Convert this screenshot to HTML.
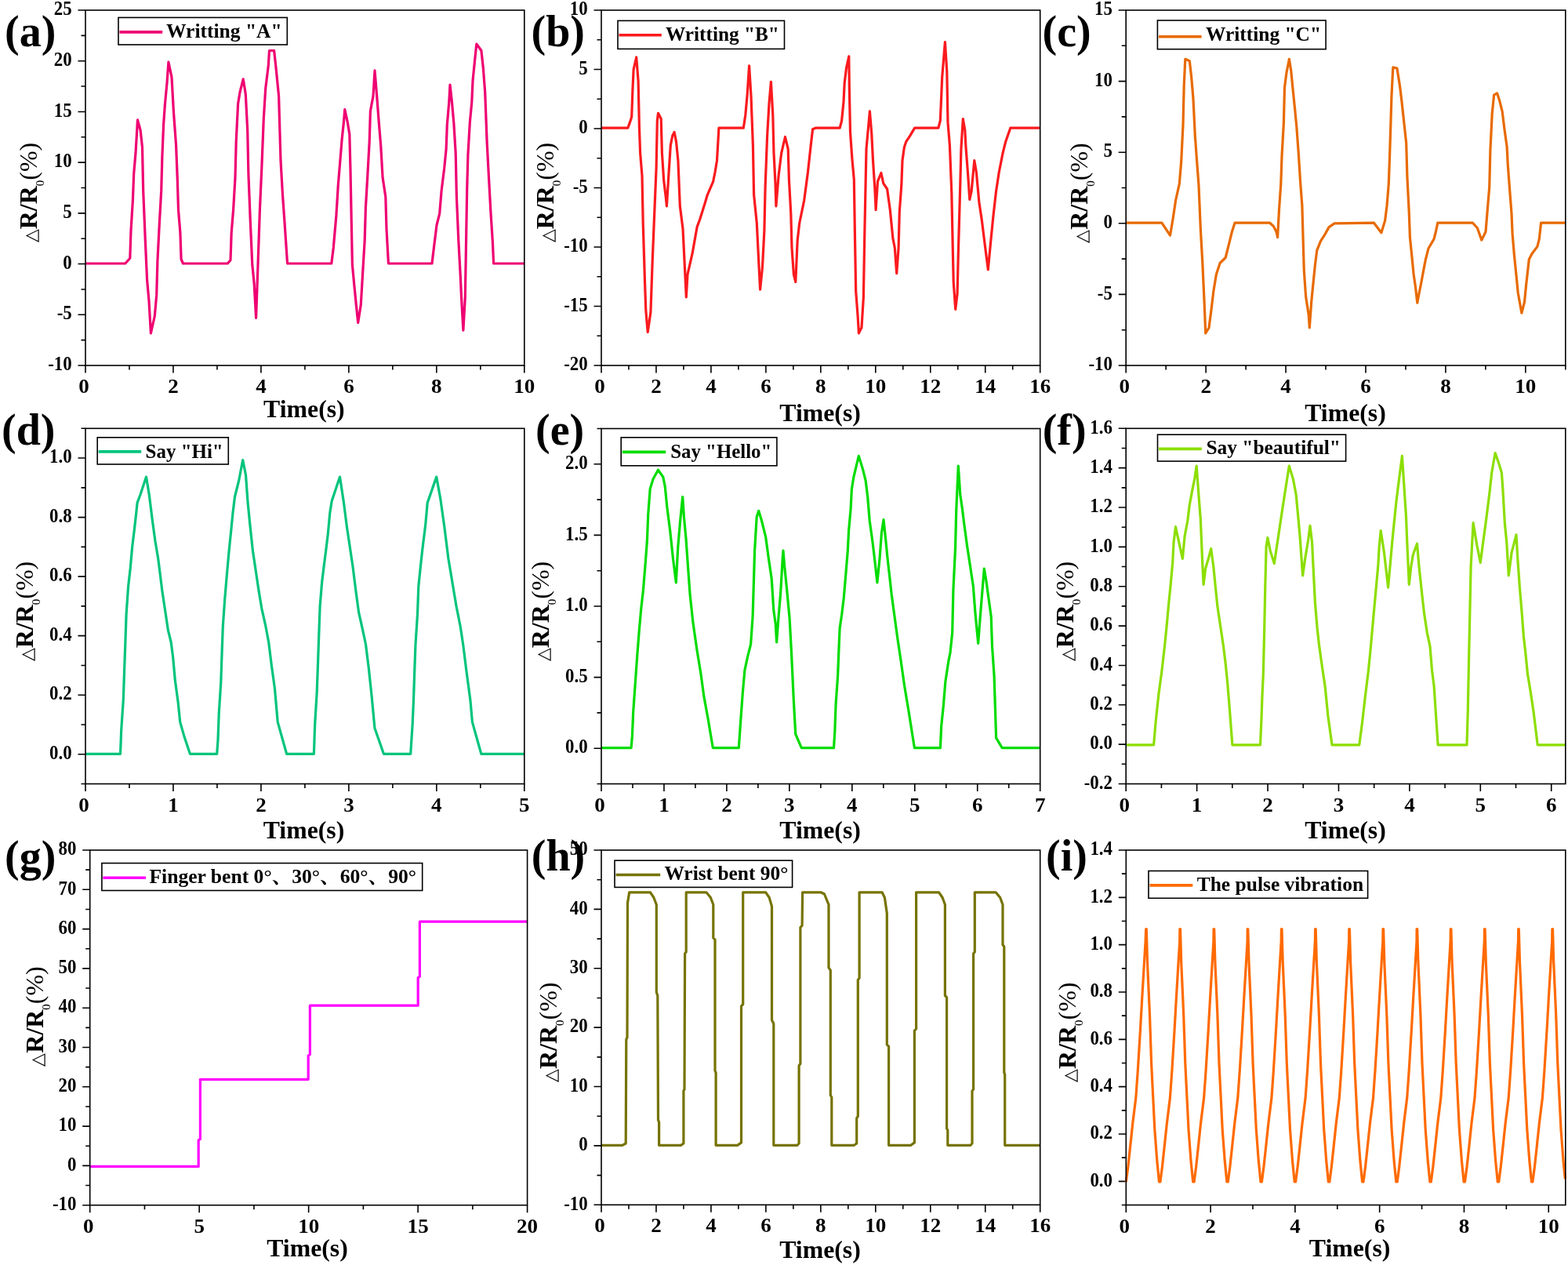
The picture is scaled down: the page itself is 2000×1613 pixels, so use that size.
<!DOCTYPE html>
<html><head><meta charset="utf-8"><style>
html,body{margin:0;padding:0;background:#fff;}
svg{display:block;}
text{font-family:"Liberation Serif", "Times New Roman", serif;fill:#000;}
.tl{font-size:26px;font-weight:bold;}
.xt{font-size:32px;font-weight:bold;}
.yt{font-size:32px;font-weight:bold;}
.rg{font-weight:normal;}
.sub{font-size:15px;font-weight:normal;}
.tri{font-size:22px;font-weight:normal;}
.lg{font-size:25px;font-weight:bold;}
.lgc{font-size:25px;font-weight:bold;font-family:"Liberation Serif", "Noto Serif CJK SC", "Noto Sans CJK SC", serif;}
.pl{font-size:56px;font-weight:bold;}
</style></head><body>
<svg width="2000" height="1613" viewBox="0 0 2000 1613">
<rect width="2000" height="1613" fill="#fff"/>
<g id="pa">
<path d="M109.00 466.00v9.5 M164.98 466.00v5.5 M220.96 466.00v9.5 M276.94 466.00v5.5 M332.92 466.00v9.5 M388.90 466.00v5.5 M444.88 466.00v9.5 M500.86 466.00v5.5 M556.84 466.00v9.5 M612.82 466.00v5.5 M668.80 466.00v9.5 M109.00 466.00h-9.5 M109.00 433.64h-5.5 M109.00 401.29h-9.5 M109.00 368.93h-5.5 M109.00 336.57h-9.5 M109.00 304.21h-5.5 M109.00 271.86h-9.5 M109.00 239.50h-5.5 M109.00 207.14h-9.5 M109.00 174.79h-5.5 M109.00 142.43h-9.5 M109.00 110.07h-5.5 M109.00 77.71h-9.5 M109.00 45.36h-5.5 M109.00 13.00h-9.5" stroke="#000" stroke-width="1.6" fill="none"/>
<text transform="translate(107.00,501.00) scale(1.04,1)" text-anchor="middle" class="tl">0</text>
<text transform="translate(220.96,501.00) scale(1.04,1)" text-anchor="middle" class="tl">2</text>
<text transform="translate(332.92,501.00) scale(1.04,1)" text-anchor="middle" class="tl">4</text>
<text transform="translate(444.88,501.00) scale(1.04,1)" text-anchor="middle" class="tl">6</text>
<text transform="translate(556.84,501.00) scale(1.04,1)" text-anchor="middle" class="tl">8</text>
<text transform="translate(668.80,501.00) scale(1.04,1)" text-anchor="middle" class="tl">10</text>
<text transform="translate(91.70,472.20) scale(0.88,1)" text-anchor="end" class="tl">-10</text>
<text transform="translate(91.70,407.49) scale(0.88,1)" text-anchor="end" class="tl">-5</text>
<text transform="translate(91.70,342.77) scale(0.88,1)" text-anchor="end" class="tl">0</text>
<text transform="translate(91.70,278.06) scale(0.88,1)" text-anchor="end" class="tl">5</text>
<text transform="translate(91.70,213.34) scale(0.88,1)" text-anchor="end" class="tl">10</text>
<text transform="translate(91.70,148.63) scale(0.88,1)" text-anchor="end" class="tl">15</text>
<text transform="translate(91.70,83.91) scale(0.88,1)" text-anchor="end" class="tl">20</text>
<text transform="translate(91.70,19.20) scale(0.88,1)" text-anchor="end" class="tl">25</text>
<polyline points="109.0,336.0 159.8,336.0 165.8,329.3 167.0,294.2 169.4,255.5 170.7,221.7 173.0,195.0 174.3,173.3 175.5,152.8 179.1,166.0 181.5,187.8 182.7,243.4 185.2,303.9 187.6,357.0 190.0,383.6 192.4,424.8 197.3,403.0 199.7,376.4 200.9,332.9 203.3,285.7 205.7,243.4 206.9,199.9 208.6,158.8 210.5,132.2 213.0,105.6 214.9,79.0 219.0,98.4 221.4,141.9 224.6,185.4 226.3,228.9 227.5,267.6 229.9,296.6 231.1,330.5 233.5,336.0 290.3,336.0 294.0,331.7 295.2,296.6 297.6,267.6 300.0,226.5 301.2,180.6 303.6,132.2 306.0,117.7 310.2,100.8 313.3,120.1 315.7,166.0 316.9,221.7 319.3,282.1 321.8,337.7 324.2,361.9 326.6,405.4 329.0,337.7 331.4,267.6 333.9,212.0 336.3,151.5 338.7,112.9 342.3,83.8 343.5,64.5 349.6,64.5 352.0,86.3 355.6,122.5 358.0,204.7 360.5,248.3 362.9,282.1 366.5,335.3 366.8,336.0 422.8,336.0 425.3,316.0 428.9,274.9 431.3,236.2 433.7,207.2 436.1,178.1 438.6,154.0 439.8,139.5 443.4,156.4 445.8,170.9 447.0,216.8 448.2,279.7 449.4,337.7 451.9,364.3 454.3,388.5 456.7,411.5 460.3,388.5 462.7,347.4 465.2,306.3 466.4,265.2 468.8,224.1 471.2,180.6 472.4,141.9 476.0,122.5 478.0,89.9 480.9,125.0 483.3,156.4 485.7,185.4 488.1,226.5 491.8,250.7 493.0,291.8 495.4,335.3 495.6,336.0 551.0,336.0 553.4,316.0 557.0,287.0 560.7,272.4 563.1,243.4 566.7,214.4 569.1,190.2 570.3,158.8 572.8,129.8 574.0,108.0 576.4,129.8 578.8,156.4 581.2,195.1 582.4,250.7 584.8,306.3 587.3,352.2 588.5,378.8 590.9,421.1 593.3,378.8 594.5,311.1 595.7,241.0 596.9,197.5 599.3,156.4 601.8,129.8 603.0,103.2 605.4,79.0 607.8,56.0 613.9,64.5 616.3,86.3 618.7,117.7 621.1,180.6 623.5,226.5 625.9,270.0 628.4,308.7 629.6,336.0 669.0,336.0" fill="none" stroke="#ee0072" stroke-width="3.2" stroke-linejoin="round"/>
<rect x="109.00" y="13.00" width="559.80" height="453.00" fill="none" stroke="#000" stroke-width="1.6"/>
<text x="336.10" y="532.00" class="xt" textLength="103.6" lengthAdjust="spacingAndGlyphs">Time(s)</text>
<rect x="151.00" y="22.40" width="215.30" height="34.60" fill="#fff" stroke="#000" stroke-width="1.6"/>
<line x1="152.50" y1="40.90" x2="207.20" y2="40.90" stroke="#ee0072" stroke-width="3.6"/>
<text x="212.00" y="48.00" class="lg" textLength="147.70" lengthAdjust="spacingAndGlyphs">Writting &quot;A&quot;</text>
</g>
<g id="pb">
<path d="M767.00 466.00v9.5 M801.98 466.00v5.5 M836.96 466.00v9.5 M871.94 466.00v5.5 M906.92 466.00v9.5 M941.91 466.00v5.5 M976.89 466.00v9.5 M1011.87 466.00v5.5 M1046.85 466.00v9.5 M1081.83 466.00v5.5 M1116.81 466.00v9.5 M1151.79 466.00v5.5 M1186.78 466.00v9.5 M1221.76 466.00v5.5 M1256.74 466.00v9.5 M1291.72 466.00v5.5 M1326.70 466.00v9.5 M767.00 466.00h-9.5 M767.00 428.25h-5.5 M767.00 390.50h-9.5 M767.00 352.75h-5.5 M767.00 315.00h-9.5 M767.00 277.25h-5.5 M767.00 239.50h-9.5 M767.00 201.75h-5.5 M767.00 164.00h-9.5 M767.00 126.25h-5.5 M767.00 88.50h-9.5 M767.00 50.75h-5.5 M767.00 13.00h-9.5" stroke="#000" stroke-width="1.6" fill="none"/>
<text transform="translate(765.00,501.00) scale(1.04,1)" text-anchor="middle" class="tl">0</text>
<text transform="translate(836.96,501.00) scale(1.04,1)" text-anchor="middle" class="tl">2</text>
<text transform="translate(906.92,501.00) scale(1.04,1)" text-anchor="middle" class="tl">4</text>
<text transform="translate(976.89,501.00) scale(1.04,1)" text-anchor="middle" class="tl">6</text>
<text transform="translate(1046.85,501.00) scale(1.04,1)" text-anchor="middle" class="tl">8</text>
<text transform="translate(1116.81,501.00) scale(1.04,1)" text-anchor="middle" class="tl">10</text>
<text transform="translate(1186.78,501.00) scale(1.04,1)" text-anchor="middle" class="tl">12</text>
<text transform="translate(1256.74,501.00) scale(1.04,1)" text-anchor="middle" class="tl">14</text>
<text transform="translate(1326.70,501.00) scale(1.04,1)" text-anchor="middle" class="tl">16</text>
<text transform="translate(749.70,472.20) scale(0.88,1)" text-anchor="end" class="tl">-20</text>
<text transform="translate(749.70,396.70) scale(0.88,1)" text-anchor="end" class="tl">-15</text>
<text transform="translate(749.70,321.20) scale(0.88,1)" text-anchor="end" class="tl">-10</text>
<text transform="translate(749.70,245.70) scale(0.88,1)" text-anchor="end" class="tl">-5</text>
<text transform="translate(749.70,170.20) scale(0.88,1)" text-anchor="end" class="tl">0</text>
<text transform="translate(749.70,94.70) scale(0.88,1)" text-anchor="end" class="tl">5</text>
<text transform="translate(749.70,19.20) scale(0.88,1)" text-anchor="end" class="tl">10</text>
<polyline points="767.0,163.2 800.8,163.2 803.3,156.4 805.7,149.1 806.9,115.3 808.1,88.7 811.7,73.0 814.1,103.2 815.4,161.2 816.6,195.1 819.0,224.1 820.2,284.5 822.6,361.9 823.8,395.7 826.2,423.5 829.9,398.2 832.3,330.5 834.7,272.4 837.1,214.4 838.3,154.0 839.5,144.3 843.2,151.5 844.4,195.1 846.8,231.3 849.2,250.7 850.4,262.8 852.8,224.1 855.3,185.4 857.7,173.3 860.1,168.5 862.5,180.6 864.9,204.7 867.3,262.8 871.0,291.8 873.4,340.1 875.3,378.8 877.0,349.8 883.1,323.2 889.1,289.4 892.7,279.7 898.8,260.3 902.4,248.3 909.7,231.3 912.1,219.2 914.5,204.7 916.9,163.2 948.3,163.2 950.8,146.7 953.2,120.1 955.6,83.8 958.0,122.5 960.4,185.4 961.6,248.3 965.3,284.5 967.7,332.9 969.6,369.1 972.5,340.1 974.9,294.2 976.1,238.6 978.6,173.3 981.0,132.2 983.4,104.4 985.8,146.7 987.0,195.1 989.0,233.8 989.9,262.8 993.1,224.1 996.7,195.1 1001.5,174.5 1005.2,190.2 1006.4,228.9 1008.8,272.4 1010.0,316.0 1012.4,349.8 1014.8,359.5 1017.2,306.3 1019.7,284.5 1025.7,255.5 1030.5,219.2 1034.2,185.4 1036.6,164.8 1040.2,163.2 1071.2,163.2 1073.6,154.0 1076.0,129.8 1077.2,105.6 1079.6,86.3 1082.8,71.8 1083.3,110.4 1084.5,168.5 1086.9,202.3 1089.3,228.9 1090.5,303.9 1091.7,371.6 1094.1,403.0 1095.4,424.8 1099.0,417.5 1101.4,378.8 1102.6,308.7 1103.8,248.3 1105.0,190.2 1107.4,163.6 1109.4,141.9 1111.8,170.9 1113.5,204.7 1115.9,241.0 1117.1,267.6 1119.5,231.3 1123.9,220.5 1126.8,233.8 1131.6,241.0 1135.3,267.6 1138.9,303.9 1141.3,316.0 1143.7,348.6 1146.1,316.0 1147.3,270.0 1149.8,236.2 1151.0,204.7 1153.4,187.8 1155.8,180.6 1160.6,173.3 1166.7,163.2 1196.9,163.2 1199.3,154.0 1200.5,127.4 1201.7,98.4 1205.4,53.6 1207.8,91.1 1209.0,156.4 1211.4,185.4 1213.8,245.8 1215.0,303.9 1216.2,359.5 1218.7,394.5 1221.1,374.0 1222.3,323.2 1224.7,238.6 1225.9,190.2 1228.3,151.5 1230.8,166.0 1232.0,187.8 1234.4,219.2 1236.8,254.3 1239.2,243.4 1242.8,204.7 1245.3,219.2 1248.9,257.9 1252.5,282.1 1256.1,311.1 1260.3,343.8 1263.4,311.1 1267.0,274.9 1270.6,243.4 1274.3,219.2 1279.1,195.1 1282.7,180.6 1288.8,163.2 1327.0,163.2" fill="none" stroke="#fa1a1e" stroke-width="3.2" stroke-linejoin="round"/>
<rect x="767.00" y="13.00" width="559.70" height="453.00" fill="none" stroke="#000" stroke-width="1.6"/>
<text x="994.30" y="537.40" class="xt" textLength="103.6" lengthAdjust="spacingAndGlyphs">Time(s)</text>
<rect x="788.00" y="26.40" width="212.50" height="36.00" fill="#fff" stroke="#000" stroke-width="1.6"/>
<line x1="789.50" y1="44.80" x2="843.80" y2="44.80" stroke="#fa1a1e" stroke-width="3.6"/>
<text x="849.00" y="51.60" class="lg" textLength="144.90" lengthAdjust="spacingAndGlyphs">Writting &quot;B&quot;</text>
</g>
<g id="pc">
<path d="M1436.20 466.00v9.5 M1487.16 466.00v5.5 M1538.13 466.00v9.5 M1589.09 466.00v5.5 M1640.05 466.00v9.5 M1691.02 466.00v5.5 M1741.98 466.00v9.5 M1792.95 466.00v5.5 M1843.91 466.00v9.5 M1894.87 466.00v5.5 M1945.84 466.00v9.5 M1996.80 466.00v5.5 M1436.20 466.00h-9.5 M1436.20 420.70h-5.5 M1436.20 375.40h-9.5 M1436.20 330.10h-5.5 M1436.20 284.80h-9.5 M1436.20 239.50h-5.5 M1436.20 194.20h-9.5 M1436.20 148.90h-5.5 M1436.20 103.60h-9.5 M1436.20 58.30h-5.5 M1436.20 13.00h-9.5" stroke="#000" stroke-width="1.6" fill="none"/>
<text transform="translate(1434.20,501.00) scale(1.04,1)" text-anchor="middle" class="tl">0</text>
<text transform="translate(1538.13,501.00) scale(1.04,1)" text-anchor="middle" class="tl">2</text>
<text transform="translate(1640.05,501.00) scale(1.04,1)" text-anchor="middle" class="tl">4</text>
<text transform="translate(1741.98,501.00) scale(1.04,1)" text-anchor="middle" class="tl">6</text>
<text transform="translate(1843.91,501.00) scale(1.04,1)" text-anchor="middle" class="tl">8</text>
<text transform="translate(1945.84,501.00) scale(1.04,1)" text-anchor="middle" class="tl">10</text>
<text transform="translate(1418.90,472.20) scale(0.88,1)" text-anchor="end" class="tl">-10</text>
<text transform="translate(1418.90,381.60) scale(0.88,1)" text-anchor="end" class="tl">-5</text>
<text transform="translate(1418.90,291.00) scale(0.88,1)" text-anchor="end" class="tl">0</text>
<text transform="translate(1418.90,200.40) scale(0.88,1)" text-anchor="end" class="tl">5</text>
<text transform="translate(1418.90,109.80) scale(0.88,1)" text-anchor="end" class="tl">10</text>
<text transform="translate(1418.90,19.20) scale(0.88,1)" text-anchor="end" class="tl">15</text>
<polyline points="1436.0,284.2 1481.9,284.2 1492.5,300.2 1496.1,279.0 1499.6,255.5 1504.3,234.3 1506.7,206.0 1509.0,158.9 1510.2,109.5 1511.8,75.3 1517.3,77.7 1519.6,97.7 1522.0,126.0 1524.3,173.0 1526.7,206.0 1529.0,236.6 1531.4,293.2 1533.7,333.2 1536.1,385.0 1537.7,425.0 1542.0,418.0 1544.8,396.8 1547.9,370.9 1551.4,349.7 1556.1,335.5 1563.2,328.5 1567.9,309.6 1571.4,295.5 1575.0,284.2 1619.7,284.2 1624.4,288.5 1628.0,295.5 1629.6,302.6 1631.5,267.3 1633.8,234.3 1635.0,199.0 1637.4,156.6 1638.5,111.8 1640.9,93.0 1644.4,75.3 1646.8,90.6 1649.1,114.2 1651.5,137.7 1653.8,161.3 1656.2,194.2 1658.6,231.9 1660.9,262.5 1662.1,304.9 1663.3,345.0 1665.6,378.0 1669.2,401.5 1670.3,418.0 1672.7,385.0 1675.0,361.5 1677.4,337.9 1679.8,319.1 1684.5,307.3 1689.2,300.2 1695.1,289.6 1702.1,284.9 1752.5,284.2 1761.9,296.7 1766.6,281.4 1769.0,262.5 1771.3,234.3 1772.5,201.3 1773.7,163.6 1774.9,123.6 1776.8,85.9 1781.9,87.1 1785.5,109.5 1787.8,128.3 1791.4,161.3 1793.7,182.5 1794.9,224.9 1797.3,272.0 1798.4,302.6 1800.8,326.1 1803.1,349.7 1805.5,366.2 1807.8,386.2 1810.2,373.2 1812.6,361.5 1816.1,342.6 1818.4,330.8 1822.0,316.7 1829.0,304.9 1831.4,295.5 1833.8,284.2 1878.5,284.2 1884.4,290.8 1889.8,306.1 1895.0,295.5 1897.3,267.3 1899.7,239.0 1900.9,191.9 1903.2,144.8 1905.6,121.2 1909.6,118.9 1912.7,128.3 1916.2,142.4 1918.5,161.3 1922.1,187.2 1923.3,210.7 1925.6,241.3 1928.0,272.0 1929.1,297.9 1931.5,326.1 1933.9,349.7 1936.2,373.2 1940.9,399.1 1944.5,385.0 1946.8,361.5 1950.3,330.8 1953.9,323.8 1960.9,314.4 1963.3,304.9 1965.6,284.2 1996.0,284.2" fill="none" stroke="#e86a00" stroke-width="3.2" stroke-linejoin="round"/>
<rect x="1436.20" y="13.00" width="560.60" height="453.00" fill="none" stroke="#000" stroke-width="1.6"/>
<text x="1664.20" y="537.20" class="xt" textLength="103.6" lengthAdjust="spacingAndGlyphs">Time(s)</text>
<rect x="1476.40" y="26.00" width="214.70" height="36.70" fill="#fff" stroke="#000" stroke-width="1.6"/>
<line x1="1477.90" y1="46.70" x2="1532.60" y2="46.70" stroke="#e86a00" stroke-width="3.6"/>
<text x="1538.00" y="52.20" class="lg" textLength="147.00" lengthAdjust="spacingAndGlyphs">Writting &quot;C&quot;</text>
</g>
<g id="pd">
<path d="M109.00 999.50v9.5 M164.98 999.50v5.5 M220.96 999.50v9.5 M276.94 999.50v5.5 M332.92 999.50v9.5 M388.90 999.50v5.5 M444.88 999.50v9.5 M500.86 999.50v5.5 M556.84 999.50v9.5 M612.82 999.50v5.5 M668.80 999.50v9.5 M109.00 999.50h-5.5 M109.00 961.73h-9.5 M109.00 923.97h-5.5 M109.00 886.20h-9.5 M109.00 848.43h-5.5 M109.00 810.67h-9.5 M109.00 772.90h-5.5 M109.00 735.13h-9.5 M109.00 697.37h-5.5 M109.00 659.60h-9.5 M109.00 621.83h-5.5 M109.00 584.07h-9.5 M109.00 546.30h-5.5" stroke="#000" stroke-width="1.6" fill="none"/>
<text transform="translate(107.00,1034.50) scale(1.04,1)" text-anchor="middle" class="tl">0</text>
<text transform="translate(220.96,1034.50) scale(1.04,1)" text-anchor="middle" class="tl">1</text>
<text transform="translate(332.92,1034.50) scale(1.04,1)" text-anchor="middle" class="tl">2</text>
<text transform="translate(444.88,1034.50) scale(1.04,1)" text-anchor="middle" class="tl">3</text>
<text transform="translate(556.84,1034.50) scale(1.04,1)" text-anchor="middle" class="tl">4</text>
<text transform="translate(668.80,1034.50) scale(1.04,1)" text-anchor="middle" class="tl">5</text>
<text transform="translate(91.70,967.93) scale(0.88,1)" text-anchor="end" class="tl">0.0</text>
<text transform="translate(91.70,892.40) scale(0.88,1)" text-anchor="end" class="tl">0.2</text>
<text transform="translate(91.70,816.87) scale(0.88,1)" text-anchor="end" class="tl">0.4</text>
<text transform="translate(91.70,741.33) scale(0.88,1)" text-anchor="end" class="tl">0.6</text>
<text transform="translate(91.70,665.80) scale(0.88,1)" text-anchor="end" class="tl">0.8</text>
<text transform="translate(91.70,590.27) scale(0.88,1)" text-anchor="end" class="tl">1.0</text>
<polyline points="109.0,961.3 153.5,961.3 154.7,930.8 157.3,892.7 158.5,857.1 159.8,821.5 161.1,783.4 163.6,747.8 166.2,725.0 168.7,697.0 171.2,676.7 173.8,653.8 175.1,641.1 178.9,631.0 186.5,608.1 190.3,631.0 194.1,661.5 197.9,689.4 201.7,712.3 204.3,732.6 206.8,752.9 210.6,778.3 214.4,803.7 218.2,819.0 220.8,839.3 223.3,867.3 227.1,895.2 229.7,920.6 234.8,938.4 242.4,961.3 276.7,961.3 278.0,943.5 279.2,910.4 281.8,869.8 283.0,834.2 284.3,798.7 286.8,763.1 289.4,732.6 291.9,704.7 294.5,679.2 297.0,653.8 299.5,633.5 304.6,613.2 309.7,586.5 313.5,605.6 316.1,641.1 318.6,666.5 322.4,702.1 326.2,727.5 330.0,752.9 333.8,775.8 338.9,798.7 342.7,819.0 346.5,849.5 350.4,877.4 354.2,920.6 365.6,961.3 400.4,961.3 401.7,923.2 404.2,882.5 405.5,846.9 406.8,808.8 408.1,773.3 410.6,742.8 413.1,722.4 415.7,702.1 418.2,681.8 420.8,653.8 423.3,638.6 433.5,608.1 438.5,641.1 442.4,671.6 446.2,697.0 450.0,722.4 453.8,752.9 457.6,780.9 462.7,803.7 466.5,821.5 470.3,852.0 474.1,887.6 477.9,928.2 489.4,961.3 523.7,961.3 526.2,923.2 527.5,892.7 528.7,857.1 530.0,821.5 532.5,783.4 533.8,747.8 536.4,722.4 538.9,699.6 542.7,669.1 545.2,641.1 556.7,608.1 561.8,636.1 566.8,671.6 571.9,712.3 577.0,742.8 582.1,773.3 587.2,798.7 591.0,824.1 594.8,854.6 599.9,892.7 602.4,920.6 613.8,961.3 669.0,961.3" fill="none" stroke="#00c47c" stroke-width="3.2" stroke-linejoin="round"/>
<rect x="109.00" y="546.30" width="559.80" height="453.20" fill="none" stroke="#000" stroke-width="1.6"/>
<text x="335.70" y="1069.00" class="xt" textLength="103.6" lengthAdjust="spacingAndGlyphs">Time(s)</text>
<rect x="124.20" y="557.80" width="167.10" height="34.20" fill="#fff" stroke="#000" stroke-width="1.6"/>
<line x1="125.70" y1="575.90" x2="180.20" y2="575.90" stroke="#00c47c" stroke-width="3.6"/>
<text x="185.60" y="583.60" class="lg" textLength="99.10" lengthAdjust="spacingAndGlyphs">Say &quot;Hi&quot;</text>
</g>
<g id="pe">
<path d="M767.00 999.50v9.5 M806.98 999.50v5.5 M846.96 999.50v9.5 M886.94 999.50v5.5 M926.91 999.50v9.5 M966.89 999.50v5.5 M1006.87 999.50v9.5 M1046.85 999.50v5.5 M1086.83 999.50v9.5 M1126.81 999.50v5.5 M1166.79 999.50v9.5 M1206.76 999.50v5.5 M1246.74 999.50v9.5 M1286.72 999.50v5.5 M1326.70 999.50v9.5 M767.00 999.50h-5.5 M767.00 954.20h-9.5 M767.00 908.90h-5.5 M767.00 863.60h-9.5 M767.00 818.30h-5.5 M767.00 773.00h-9.5 M767.00 727.70h-5.5 M767.00 682.40h-9.5 M767.00 637.10h-5.5 M767.00 591.80h-9.5 M767.00 546.50h-5.5" stroke="#000" stroke-width="1.6" fill="none"/>
<text transform="translate(765.00,1034.50) scale(1.04,1)" text-anchor="middle" class="tl">0</text>
<text transform="translate(846.96,1034.50) scale(1.04,1)" text-anchor="middle" class="tl">1</text>
<text transform="translate(926.91,1034.50) scale(1.04,1)" text-anchor="middle" class="tl">2</text>
<text transform="translate(1006.87,1034.50) scale(1.04,1)" text-anchor="middle" class="tl">3</text>
<text transform="translate(1086.83,1034.50) scale(1.04,1)" text-anchor="middle" class="tl">4</text>
<text transform="translate(1166.79,1034.50) scale(1.04,1)" text-anchor="middle" class="tl">5</text>
<text transform="translate(1246.74,1034.50) scale(1.04,1)" text-anchor="middle" class="tl">6</text>
<text transform="translate(1326.70,1034.50) scale(1.04,1)" text-anchor="middle" class="tl">7</text>
<text transform="translate(749.70,960.40) scale(0.88,1)" text-anchor="end" class="tl">0.0</text>
<text transform="translate(749.70,869.80) scale(0.88,1)" text-anchor="end" class="tl">0.5</text>
<text transform="translate(749.70,779.20) scale(0.88,1)" text-anchor="end" class="tl">1.0</text>
<text transform="translate(749.70,688.60) scale(0.88,1)" text-anchor="end" class="tl">1.5</text>
<text transform="translate(749.70,598.00) scale(0.88,1)" text-anchor="end" class="tl">2.0</text>
<polyline points="767.0,953.6 805.1,953.6 806.4,938.4 807.7,907.9 810.2,872.3 812.7,836.8 815.3,803.7 817.8,775.8 820.4,752.9 822.9,722.4 825.4,689.4 826.7,656.4 829.2,623.4 833.1,610.7 839.4,599.2 845.8,608.1 848.3,620.8 850.8,646.2 854.7,676.7 858.5,712.3 862.3,742.8 864.8,697.0 867.4,666.5 870.7,633.5 872.4,658.9 875.0,686.9 877.5,722.4 880.1,758.0 883.9,793.6 889.0,829.1 894.0,859.6 897.8,887.6 902.9,915.5 909.3,953.6 942.3,953.6 944.8,918.1 947.4,882.5 949.9,854.6 953.7,836.8 957.6,821.5 960.1,786.0 961.4,742.8 962.6,702.1 965.2,658.9 967.7,651.3 971.5,664.0 976.6,684.3 980.4,712.3 984.2,737.7 986.8,778.3 989.3,796.1 990.6,819.0 993.1,786.0 995.7,755.5 998.2,712.3 999.0,702.1 1000.7,722.4 1003.3,747.8 1007.1,788.5 1009.6,834.2 1012.2,890.1 1014.7,935.9 1022.3,953.6 1063.5,953.6 1064.8,933.3 1066.1,897.7 1068.6,862.2 1069.9,829.1 1071.1,801.2 1073.7,783.4 1076.2,763.1 1078.8,732.6 1081.3,702.1 1082.6,676.7 1085.1,648.8 1086.4,623.4 1088.9,608.1 1095.3,581.4 1100.4,597.9 1104.2,613.2 1106.7,633.5 1109.2,664.0 1113.1,692.0 1116.1,717.4 1118.9,742.8 1122.0,712.3 1124.5,679.2 1127.0,662.7 1129.6,686.9 1132.1,712.3 1134.7,735.1 1137.2,758.0 1141.0,786.0 1144.8,813.9 1148.6,839.3 1153.7,874.9 1158.8,905.4 1166.4,953.6 1199.4,953.6 1200.7,925.7 1203.3,900.3 1205.8,869.8 1209.6,844.4 1212.1,831.7 1214.7,806.3 1215.9,752.9 1218.5,699.6 1219.8,648.8 1222.3,594.1 1224.8,631.0 1227.4,648.8 1229.9,669.1 1233.7,697.0 1237.6,722.4 1241.4,747.8 1243.9,780.9 1247.7,820.3 1250.3,786.0 1252.8,755.5 1255.3,725.0 1257.9,740.2 1261.7,768.2 1264.2,786.0 1265.5,824.1 1268.1,862.2 1269.3,900.3 1270.6,940.9 1278.2,953.6 1327.0,953.6" fill="none" stroke="#00dc00" stroke-width="3.2" stroke-linejoin="round"/>
<rect x="767.00" y="546.50" width="559.70" height="453.00" fill="none" stroke="#000" stroke-width="1.6"/>
<text x="994.30" y="1069.00" class="xt" textLength="103.6" lengthAdjust="spacingAndGlyphs">Time(s)</text>
<rect x="792.20" y="557.80" width="198.70" height="36.00" fill="#fff" stroke="#000" stroke-width="1.6"/>
<line x1="793.70" y1="576.40" x2="849.20" y2="576.40" stroke="#00dc00" stroke-width="3.6"/>
<text x="855.20" y="583.60" class="lg" textLength="129.10" lengthAdjust="spacingAndGlyphs">Say &quot;Hello&quot;</text>
</g>
<g id="pf">
<path d="M1436.20 999.50v9.5 M1481.41 999.50v5.5 M1526.62 999.50v9.5 M1571.83 999.50v5.5 M1617.04 999.50v9.5 M1662.25 999.50v5.5 M1707.46 999.50v9.5 M1752.67 999.50v5.5 M1797.88 999.50v9.5 M1843.09 999.50v5.5 M1888.30 999.50v9.5 M1933.51 999.50v5.5 M1978.72 999.50v9.5 M1436.20 999.50h-9.5 M1436.20 974.32h-5.5 M1436.20 949.14h-9.5 M1436.20 923.97h-5.5 M1436.20 898.79h-9.5 M1436.20 873.61h-5.5 M1436.20 848.43h-9.5 M1436.20 823.26h-5.5 M1436.20 798.08h-9.5 M1436.20 772.90h-5.5 M1436.20 747.72h-9.5 M1436.20 722.54h-5.5 M1436.20 697.37h-9.5 M1436.20 672.19h-5.5 M1436.20 647.01h-9.5 M1436.20 621.83h-5.5 M1436.20 596.66h-9.5 M1436.20 571.48h-5.5 M1436.20 546.30h-9.5" stroke="#000" stroke-width="1.6" fill="none"/>
<text transform="translate(1434.20,1034.50) scale(1.04,1)" text-anchor="middle" class="tl">0</text>
<text transform="translate(1526.62,1034.50) scale(1.04,1)" text-anchor="middle" class="tl">1</text>
<text transform="translate(1617.04,1034.50) scale(1.04,1)" text-anchor="middle" class="tl">2</text>
<text transform="translate(1707.46,1034.50) scale(1.04,1)" text-anchor="middle" class="tl">3</text>
<text transform="translate(1797.88,1034.50) scale(1.04,1)" text-anchor="middle" class="tl">4</text>
<text transform="translate(1888.30,1034.50) scale(1.04,1)" text-anchor="middle" class="tl">5</text>
<text transform="translate(1978.72,1034.50) scale(1.04,1)" text-anchor="middle" class="tl">6</text>
<text transform="translate(1418.90,1005.70) scale(0.88,1)" text-anchor="end" class="tl">-0.2</text>
<text transform="translate(1418.90,955.34) scale(0.88,1)" text-anchor="end" class="tl">0.0</text>
<text transform="translate(1418.90,904.99) scale(0.88,1)" text-anchor="end" class="tl">0.2</text>
<text transform="translate(1418.90,854.63) scale(0.88,1)" text-anchor="end" class="tl">0.4</text>
<text transform="translate(1418.90,804.28) scale(0.88,1)" text-anchor="end" class="tl">0.6</text>
<text transform="translate(1418.90,753.92) scale(0.88,1)" text-anchor="end" class="tl">0.8</text>
<text transform="translate(1418.90,703.57) scale(0.88,1)" text-anchor="end" class="tl">1.0</text>
<text transform="translate(1418.90,653.21) scale(0.88,1)" text-anchor="end" class="tl">1.2</text>
<text transform="translate(1418.90,602.86) scale(0.88,1)" text-anchor="end" class="tl">1.4</text>
<text transform="translate(1418.90,552.50) scale(0.88,1)" text-anchor="end" class="tl">1.6</text>
<polyline points="1436.0,949.8 1471.6,949.8 1474.1,920.6 1477.9,885.0 1481.7,857.1 1485.5,824.1 1488.1,798.7 1490.6,770.7 1493.2,745.3 1495.7,717.4 1497.0,692.0 1499.5,671.6 1503.3,689.4 1508.4,712.3 1511.0,684.3 1514.8,664.0 1517.3,643.7 1521.1,623.4 1523.7,610.7 1526.2,594.1 1528.7,628.4 1531.3,661.5 1533.8,719.9 1535.1,745.3 1537.6,725.0 1541.4,712.3 1544.7,699.6 1547.8,722.4 1550.3,747.8 1552.9,773.3 1556.7,798.7 1560.5,824.1 1563.0,844.4 1565.6,869.8 1568.1,900.3 1571.9,949.8 1607.5,949.8 1608.8,920.6 1610.0,887.6 1611.3,859.6 1612.6,806.3 1613.8,747.8 1615.1,697.0 1616.9,685.6 1620.2,702.1 1625.3,718.6 1627.8,702.1 1631.6,676.7 1635.4,651.3 1639.3,625.9 1644.3,594.1 1649.4,610.7 1653.2,631.0 1655.8,658.9 1658.3,686.9 1661.6,733.9 1664.7,712.3 1668.5,689.4 1671.0,670.4 1673.6,692.0 1674.8,717.4 1677.4,768.2 1679.9,798.7 1682.4,821.5 1686.3,849.5 1690.1,874.9 1693.9,913.0 1699.0,949.8 1733.8,949.8 1737.6,920.6 1741.4,887.6 1745.2,857.1 1747.8,831.7 1750.3,803.7 1752.8,775.8 1755.4,747.8 1757.9,719.9 1759.2,697.0 1761.2,676.7 1765.5,704.7 1770.6,749.1 1773.2,719.9 1775.7,692.0 1778.2,666.5 1780.8,641.1 1783.3,620.8 1788.4,581.4 1791.0,620.8 1793.5,658.9 1794.8,692.0 1797.3,745.3 1799.8,722.4 1802.4,707.2 1807.5,693.2 1810.0,722.4 1813.8,758.0 1816.4,780.9 1820.2,806.3 1824.0,824.1 1826.5,854.6 1829.1,874.9 1831.6,913.0 1834.1,949.8 1871.0,949.8 1872.3,905.4 1873.5,844.4 1874.8,783.4 1876.1,722.4 1879.1,666.5 1883.7,694.5 1888.3,717.4 1891.3,694.5 1895.1,666.5 1897.7,646.2 1900.2,625.9 1902.7,603.0 1907.1,577.6 1911.6,590.3 1915.4,603.0 1916.7,620.8 1919.3,666.5 1921.8,692.0 1924.3,733.9 1928.1,704.7 1934.0,681.8 1935.8,712.3 1938.3,747.8 1940.9,778.3 1943.4,811.4 1946.0,834.2 1948.5,859.6 1952.3,882.5 1956.1,907.9 1961.2,949.8 1996.0,949.8" fill="none" stroke="#8cde00" stroke-width="3.2" stroke-linejoin="round"/>
<rect x="1436.20" y="546.30" width="560.60" height="453.20" fill="none" stroke="#000" stroke-width="1.6"/>
<text x="1664.20" y="1068.80" class="xt" textLength="103.6" lengthAdjust="spacingAndGlyphs">Time(s)</text>
<rect x="1476.50" y="554.20" width="240.10" height="33.90" fill="#fff" stroke="#000" stroke-width="1.6"/>
<line x1="1478.00" y1="572.40" x2="1532.80" y2="572.40" stroke="#8cde00" stroke-width="3.6"/>
<text x="1538.40" y="579.40" class="lg" textLength="171.60" lengthAdjust="spacingAndGlyphs">Say &quot;beautiful&quot;</text>
</g>
<g id="pg">
<path d="M114.70 1536.70v9.5 M184.44 1536.70v5.5 M254.18 1536.70v9.5 M323.91 1536.70v5.5 M393.65 1536.70v9.5 M463.39 1536.70v5.5 M533.12 1536.70v9.5 M602.86 1536.70v5.5 M672.60 1536.70v9.5 M114.70 1536.70h-9.5 M114.70 1511.55h-5.5 M114.70 1486.40h-9.5 M114.70 1461.25h-5.5 M114.70 1436.10h-9.5 M114.70 1410.95h-5.5 M114.70 1385.80h-9.5 M114.70 1360.65h-5.5 M114.70 1335.50h-9.5 M114.70 1310.35h-5.5 M114.70 1285.20h-9.5 M114.70 1260.05h-5.5 M114.70 1234.90h-9.5 M114.70 1209.75h-5.5 M114.70 1184.60h-9.5 M114.70 1159.45h-5.5 M114.70 1134.30h-9.5 M114.70 1109.15h-5.5 M114.70 1084.00h-9.5" stroke="#000" stroke-width="1.6" fill="none"/>
<text transform="translate(112.70,1571.70) scale(1.04,1)" text-anchor="middle" class="tl">0</text>
<text transform="translate(254.18,1571.70) scale(1.04,1)" text-anchor="middle" class="tl">5</text>
<text transform="translate(393.65,1571.70) scale(1.04,1)" text-anchor="middle" class="tl">10</text>
<text transform="translate(533.12,1571.70) scale(1.04,1)" text-anchor="middle" class="tl">15</text>
<text transform="translate(672.60,1571.70) scale(1.04,1)" text-anchor="middle" class="tl">20</text>
<text transform="translate(97.40,1542.90) scale(0.88,1)" text-anchor="end" class="tl">-10</text>
<text transform="translate(97.40,1492.60) scale(0.88,1)" text-anchor="end" class="tl">0</text>
<text transform="translate(97.40,1442.30) scale(0.88,1)" text-anchor="end" class="tl">10</text>
<text transform="translate(97.40,1392.00) scale(0.88,1)" text-anchor="end" class="tl">20</text>
<text transform="translate(97.40,1341.70) scale(0.88,1)" text-anchor="end" class="tl">30</text>
<text transform="translate(97.40,1291.40) scale(0.88,1)" text-anchor="end" class="tl">40</text>
<text transform="translate(97.40,1241.10) scale(0.88,1)" text-anchor="end" class="tl">50</text>
<text transform="translate(97.40,1190.80) scale(0.88,1)" text-anchor="end" class="tl">60</text>
<text transform="translate(97.40,1140.50) scale(0.88,1)" text-anchor="end" class="tl">70</text>
<text transform="translate(97.40,1090.20) scale(0.88,1)" text-anchor="end" class="tl">80</text>
<polyline points="114.7,1487.4 253.2,1487.4 253.2,1453.8 255.4,1452.4 255.4,1376.3 393.2,1376.3 393.2,1346.0 395.4,1344.6 395.4,1282.2 533.2,1282.2 533.2,1246.6 535.4,1245.2 535.4,1175.2 672.6,1175.2" fill="none" stroke="#ff00ff" stroke-width="3.2" stroke-linejoin="round"/>
<rect x="114.70" y="1084.00" width="557.90" height="452.70" fill="none" stroke="#000" stroke-width="1.6"/>
<text x="340.20" y="1602.20" class="xt" textLength="103.6" lengthAdjust="spacingAndGlyphs">Time(s)</text>
<rect x="129.90" y="1100.60" width="408.80" height="34.90" fill="#fff" stroke="#000" stroke-width="1.6"/>
<line x1="131.40" y1="1119.30" x2="186.00" y2="1119.30" stroke="#ff00ff" stroke-width="3.6"/>
<text x="190.40" y="1126.30" class="lgc" textLength="340.60" lengthAdjust="spacingAndGlyphs">Finger bent 0°、30°、60°、90°</text>
</g>
<g id="ph">
<path d="M767.00 1536.30v9.5 M801.98 1536.30v5.5 M836.96 1536.30v9.5 M871.94 1536.30v5.5 M906.92 1536.30v9.5 M941.91 1536.30v5.5 M976.89 1536.30v9.5 M1011.87 1536.30v5.5 M1046.85 1536.30v9.5 M1081.83 1536.30v5.5 M1116.81 1536.30v9.5 M1151.79 1536.30v5.5 M1186.78 1536.30v9.5 M1221.76 1536.30v5.5 M1256.74 1536.30v9.5 M1291.72 1536.30v5.5 M1326.70 1536.30v9.5 M767.00 1536.30h-9.5 M767.00 1498.61h-5.5 M767.00 1460.92h-9.5 M767.00 1423.22h-5.5 M767.00 1385.53h-9.5 M767.00 1347.84h-5.5 M767.00 1310.15h-9.5 M767.00 1272.46h-5.5 M767.00 1234.77h-9.5 M767.00 1197.08h-5.5 M767.00 1159.38h-9.5 M767.00 1121.69h-5.5 M767.00 1084.00h-9.5" stroke="#000" stroke-width="1.6" fill="none"/>
<text transform="translate(765.00,1571.30) scale(1.04,1)" text-anchor="middle" class="tl">0</text>
<text transform="translate(836.96,1571.30) scale(1.04,1)" text-anchor="middle" class="tl">2</text>
<text transform="translate(906.92,1571.30) scale(1.04,1)" text-anchor="middle" class="tl">4</text>
<text transform="translate(976.89,1571.30) scale(1.04,1)" text-anchor="middle" class="tl">6</text>
<text transform="translate(1046.85,1571.30) scale(1.04,1)" text-anchor="middle" class="tl">8</text>
<text transform="translate(1116.81,1571.30) scale(1.04,1)" text-anchor="middle" class="tl">10</text>
<text transform="translate(1186.78,1571.30) scale(1.04,1)" text-anchor="middle" class="tl">12</text>
<text transform="translate(1256.74,1571.30) scale(1.04,1)" text-anchor="middle" class="tl">14</text>
<text transform="translate(1326.70,1571.30) scale(1.04,1)" text-anchor="middle" class="tl">16</text>
<text transform="translate(749.70,1542.50) scale(0.88,1)" text-anchor="end" class="tl">-10</text>
<text transform="translate(749.70,1467.12) scale(0.88,1)" text-anchor="end" class="tl">0</text>
<text transform="translate(749.70,1391.73) scale(0.88,1)" text-anchor="end" class="tl">10</text>
<text transform="translate(749.70,1316.35) scale(0.88,1)" text-anchor="end" class="tl">20</text>
<text transform="translate(749.70,1240.97) scale(0.88,1)" text-anchor="end" class="tl">30</text>
<text transform="translate(749.70,1165.58) scale(0.88,1)" text-anchor="end" class="tl">40</text>
<text transform="translate(749.70,1090.20) scale(0.88,1)" text-anchor="end" class="tl">50</text>
<polyline points="767.0,1460.3 793.8,1460.3 798.2,1458.0 798.8,1325.3 800.0,1323.0 800.5,1151.2 802.7,1137.8 829.5,1137.8 833.9,1144.5 837.3,1153.5 837.3,1265.0 838.8,1269.5 839.5,1427.9 840.6,1431.0 840.6,1460.3 868.5,1460.3 871.9,1458.0 871.9,1391.1 873.0,1389.0 873.6,1215.9 875.2,1213.7 875.2,1137.8 900.9,1137.8 906.4,1144.5 909.8,1153.5 909.8,1195.9 912.0,1198.1 912.0,1365.4 913.1,1367.6 913.1,1460.3 941.0,1460.3 945.5,1456.9 945.5,1282.9 947.7,1280.6 947.7,1137.8 976.7,1137.8 981.2,1144.5 984.5,1155.7 984.5,1300.7 986.8,1305.2 986.8,1460.3 1016.9,1460.3 1019.1,1458.0 1019.1,1358.7 1020.9,1356.5 1020.9,1182.5 1023.1,1180.2 1023.6,1137.8 1047.0,1137.8 1051.5,1140.0 1057.0,1153.5 1057.0,1233.8 1059.3,1237.1 1059.3,1396.7 1060.8,1399.0 1060.8,1460.3 1089.4,1460.3 1092.7,1458.0 1092.7,1425.7 1094.3,1423.5 1094.3,1249.4 1096.1,1247.2 1096.1,1137.8 1125.1,1137.8 1128.4,1144.5 1131.3,1164.6 1131.3,1332.0 1133.6,1334.2 1133.6,1460.3 1161.9,1460.3 1166.4,1456.9 1166.4,1314.1 1168.6,1311.9 1168.6,1137.8 1197.6,1137.8 1202.1,1144.5 1205.4,1153.5 1205.4,1269.5 1207.6,1271.7 1207.6,1439.0 1208.8,1441.0 1208.8,1460.3 1237.8,1460.3 1240.0,1458.0 1240.0,1391.1 1241.6,1389.0 1241.6,1215.9 1243.3,1213.7 1243.3,1137.8 1270.1,1137.8 1275.7,1144.5 1279.0,1153.5 1279.0,1204.8 1280.8,1207.0 1280.8,1367.7 1281.7,1370.0 1281.7,1460.3 1327.0,1460.3" fill="none" stroke="#767300" stroke-width="3.2" stroke-linejoin="round"/>
<rect x="767.00" y="1084.00" width="559.70" height="452.30" fill="none" stroke="#000" stroke-width="1.6"/>
<text x="994.20" y="1604.20" class="xt" textLength="103.6" lengthAdjust="spacingAndGlyphs">Time(s)</text>
<rect x="784.00" y="1097.20" width="226.60" height="34.20" fill="#fff" stroke="#000" stroke-width="1.6"/>
<line x1="785.50" y1="1115.50" x2="842.20" y2="1115.50" stroke="#767300" stroke-width="3.6"/>
<text x="847.40" y="1121.90" class="lg" textLength="158.00" lengthAdjust="spacingAndGlyphs">Wrist bent 90°</text>
</g>
<g id="pi">
<path d="M1436.30 1536.50v9.5 M1490.19 1536.50v5.5 M1544.09 1536.50v9.5 M1597.98 1536.50v5.5 M1651.88 1536.50v9.5 M1705.77 1536.50v5.5 M1759.67 1536.50v9.5 M1813.56 1536.50v5.5 M1867.45 1536.50v9.5 M1921.35 1536.50v5.5 M1975.24 1536.50v9.5 M1436.30 1536.50h-5.5 M1436.30 1506.33h-9.5 M1436.30 1476.17h-5.5 M1436.30 1446.00h-9.5 M1436.30 1415.83h-5.5 M1436.30 1385.67h-9.5 M1436.30 1355.50h-5.5 M1436.30 1325.33h-9.5 M1436.30 1295.17h-5.5 M1436.30 1265.00h-9.5 M1436.30 1234.83h-5.5 M1436.30 1204.67h-9.5 M1436.30 1174.50h-5.5 M1436.30 1144.33h-9.5 M1436.30 1114.17h-5.5 M1436.30 1084.00h-9.5" stroke="#000" stroke-width="1.6" fill="none"/>
<text transform="translate(1434.30,1571.50) scale(1.04,1)" text-anchor="middle" class="tl">0</text>
<text transform="translate(1544.09,1571.50) scale(1.04,1)" text-anchor="middle" class="tl">2</text>
<text transform="translate(1651.88,1571.50) scale(1.04,1)" text-anchor="middle" class="tl">4</text>
<text transform="translate(1759.67,1571.50) scale(1.04,1)" text-anchor="middle" class="tl">6</text>
<text transform="translate(1867.45,1571.50) scale(1.04,1)" text-anchor="middle" class="tl">8</text>
<text transform="translate(1975.24,1571.50) scale(1.04,1)" text-anchor="middle" class="tl">10</text>
<text transform="translate(1419.00,1512.53) scale(0.88,1)" text-anchor="end" class="tl">0.0</text>
<text transform="translate(1419.00,1452.20) scale(0.88,1)" text-anchor="end" class="tl">0.2</text>
<text transform="translate(1419.00,1391.87) scale(0.88,1)" text-anchor="end" class="tl">0.4</text>
<text transform="translate(1419.00,1331.53) scale(0.88,1)" text-anchor="end" class="tl">0.6</text>
<text transform="translate(1419.00,1271.20) scale(0.88,1)" text-anchor="end" class="tl">0.8</text>
<text transform="translate(1419.00,1210.87) scale(0.88,1)" text-anchor="end" class="tl">1.0</text>
<text transform="translate(1419.00,1150.53) scale(0.88,1)" text-anchor="end" class="tl">1.2</text>
<text transform="translate(1419.00,1090.20) scale(0.88,1)" text-anchor="end" class="tl">1.4</text>
<polyline points="1436.3,1507.0 1438.8,1488.0 1441.3,1465.0 1444.8,1432.0 1448.8,1400.0 1451.3,1365.0 1454.3,1316.0 1456.8,1272.0 1459.3,1230.0 1461.1,1200.0 1461.7,1184.5 1462.3,1184.5 1463.5,1227.0 1466.5,1294.0 1468.6,1356.0 1470.8,1400.0 1472.8,1440.0 1475.8,1480.0 1478.5,1507.0 1479.9,1507.0 1482.4,1488.0 1484.9,1465.0 1488.4,1432.0 1492.4,1400.0 1494.9,1365.0 1497.9,1316.0 1500.4,1272.0 1502.9,1230.0 1504.7,1200.0 1504.9,1184.5 1505.5,1184.5 1506.7,1227.0 1509.7,1294.0 1511.8,1356.0 1514.0,1400.0 1516.0,1440.0 1519.0,1480.0 1521.7,1507.0 1523.1,1507.0 1525.6,1488.0 1528.1,1465.0 1531.6,1432.0 1535.6,1400.0 1538.1,1365.0 1541.1,1316.0 1543.6,1272.0 1546.1,1230.0 1547.9,1200.0 1548.1,1184.5 1548.7,1184.5 1549.9,1227.0 1552.9,1294.0 1555.0,1356.0 1557.2,1400.0 1559.2,1440.0 1562.2,1480.0 1564.9,1507.0 1566.3,1507.0 1568.8,1488.0 1571.3,1465.0 1574.8,1432.0 1578.8,1400.0 1581.3,1365.0 1584.3,1316.0 1586.8,1272.0 1589.3,1230.0 1591.1,1200.0 1591.2,1184.5 1591.8,1184.5 1593.0,1227.0 1596.0,1294.0 1598.1,1356.0 1600.3,1400.0 1602.3,1440.0 1605.3,1480.0 1608.0,1507.0 1609.4,1507.0 1611.9,1488.0 1614.4,1465.0 1617.9,1432.0 1621.9,1400.0 1624.4,1365.0 1627.4,1316.0 1629.9,1272.0 1632.4,1230.0 1634.2,1200.0 1634.4,1184.5 1635.0,1184.5 1636.2,1227.0 1639.2,1294.0 1641.3,1356.0 1643.5,1400.0 1645.5,1440.0 1648.5,1480.0 1651.2,1507.0 1652.6,1507.0 1655.1,1488.0 1657.6,1465.0 1661.1,1432.0 1665.1,1400.0 1667.6,1365.0 1670.6,1316.0 1673.1,1272.0 1675.6,1230.0 1677.4,1200.0 1677.6,1184.5 1678.2,1184.5 1679.4,1227.0 1682.4,1294.0 1684.5,1356.0 1686.7,1400.0 1688.7,1440.0 1691.7,1480.0 1694.4,1507.0 1695.8,1507.0 1698.3,1488.0 1700.8,1465.0 1704.3,1432.0 1708.3,1400.0 1710.8,1365.0 1713.8,1316.0 1716.3,1272.0 1718.8,1230.0 1720.6,1200.0 1720.8,1184.5 1721.4,1184.5 1722.6,1227.0 1725.6,1294.0 1727.7,1356.0 1729.9,1400.0 1731.9,1440.0 1734.9,1480.0 1737.6,1507.0 1739.0,1507.0 1741.5,1488.0 1744.0,1465.0 1747.5,1432.0 1751.5,1400.0 1754.0,1365.0 1757.0,1316.0 1759.5,1272.0 1762.0,1230.0 1763.8,1200.0 1764.0,1184.5 1764.6,1184.5 1765.8,1227.0 1768.8,1294.0 1770.9,1356.0 1773.1,1400.0 1775.1,1440.0 1778.1,1480.0 1780.8,1507.0 1782.2,1507.0 1784.7,1488.0 1787.2,1465.0 1790.7,1432.0 1794.7,1400.0 1797.2,1365.0 1800.2,1316.0 1802.7,1272.0 1805.2,1230.0 1807.0,1200.0 1807.1,1184.5 1807.7,1184.5 1808.9,1227.0 1811.9,1294.0 1814.0,1356.0 1816.2,1400.0 1818.2,1440.0 1821.2,1480.0 1823.9,1507.0 1825.3,1507.0 1827.8,1488.0 1830.3,1465.0 1833.8,1432.0 1837.8,1400.0 1840.3,1365.0 1843.3,1316.0 1845.8,1272.0 1848.3,1230.0 1850.1,1200.0 1850.3,1184.5 1850.9,1184.5 1852.1,1227.0 1855.1,1294.0 1857.2,1356.0 1859.4,1400.0 1861.4,1440.0 1864.4,1480.0 1867.1,1507.0 1868.5,1507.0 1871.0,1488.0 1873.5,1465.0 1877.0,1432.0 1881.0,1400.0 1883.5,1365.0 1886.5,1316.0 1889.0,1272.0 1891.5,1230.0 1893.3,1200.0 1893.5,1184.5 1894.1,1184.5 1895.3,1227.0 1898.3,1294.0 1900.4,1356.0 1902.6,1400.0 1904.6,1440.0 1907.6,1480.0 1910.3,1507.0 1911.7,1507.0 1914.2,1488.0 1916.7,1465.0 1920.2,1432.0 1924.2,1400.0 1926.7,1365.0 1929.7,1316.0 1932.2,1272.0 1934.7,1230.0 1936.5,1200.0 1936.7,1184.5 1937.3,1184.5 1938.5,1227.0 1941.5,1294.0 1943.6,1356.0 1945.8,1400.0 1947.8,1440.0 1950.8,1480.0 1953.5,1507.0 1954.9,1507.0 1957.4,1488.0 1959.9,1465.0 1963.4,1432.0 1967.4,1400.0 1969.9,1365.0 1972.9,1316.0 1975.4,1272.0 1977.9,1230.0 1979.7,1200.0 1979.9,1184.5 1980.5,1184.5 1981.7,1227.0 1984.7,1294.0 1986.8,1356.0 1989.0,1400.0 1991.0,1440.0 1994.0,1480.0 1996.3,1503.4" fill="none" stroke="#ff6a00" stroke-width="3.2" stroke-linejoin="round"/>
<rect x="1436.30" y="1084.00" width="560.50" height="452.50" fill="none" stroke="#000" stroke-width="1.6"/>
<text x="1669.80" y="1602.20" class="xt" textLength="103.6" lengthAdjust="spacingAndGlyphs">Time(s)</text>
<rect x="1465.00" y="1110.50" width="279.60" height="34.80" fill="#fff" stroke="#000" stroke-width="1.6"/>
<line x1="1466.50" y1="1128.90" x2="1521.30" y2="1128.90" stroke="#ff6a00" stroke-width="3.6"/>
<text x="1526.70" y="1136.40" class="lg" textLength="212.40" lengthAdjust="spacingAndGlyphs">The pulse vibration</text>
</g>
<text x="6" y="58.5" class="pl">(a)</text>
<text x="677.5" y="58.5" class="pl">(b)</text>
<text x="1329.5" y="58.5" class="pl">(c)</text>
<text x="2" y="566.5" class="pl">(d)</text>
<text x="683" y="566.5" class="pl">(e)</text>
<text x="1329.7" y="566.5" class="pl">(f)</text>
<text x="6" y="1110.5" class="pl">(g)</text>
<text x="677.8" y="1110" class="pl">(h)</text>
<text x="1334" y="1110" class="pl">(i)</text>
<text transform="translate(46.5,245.5) rotate(-90)" text-anchor="middle" class="yt"><tspan class="tri">&#9651;</tspan>R/R<tspan class="sub" dy="9">0</tspan><tspan class="rg" dy="-9">(%)</tspan></text>
<text transform="translate(705.7,245.5) rotate(-90)" text-anchor="middle" class="yt"><tspan class="tri">&#9651;</tspan>R/R<tspan class="sub" dy="9">0</tspan><tspan class="rg" dy="-9">(%)</tspan></text>
<text transform="translate(1387,246) rotate(-90)" text-anchor="middle" class="yt"><tspan class="tri">&#9651;</tspan>R/R<tspan class="sub" dy="9">0</tspan><tspan class="rg" dy="-9">(%)</tspan></text>
<text transform="translate(42,779.5) rotate(-90)" text-anchor="middle" class="yt"><tspan class="tri">&#9651;</tspan>R/R<tspan class="sub" dy="9">0</tspan><tspan class="rg" dy="-9">(%)</tspan></text>
<text transform="translate(700.1,779.5) rotate(-90)" text-anchor="middle" class="yt"><tspan class="tri">&#9651;</tspan>R/R<tspan class="sub" dy="9">0</tspan><tspan class="rg" dy="-9">(%)</tspan></text>
<text transform="translate(1369.1,779.5) rotate(-90)" text-anchor="middle" class="yt"><tspan class="tri">&#9651;</tspan>R/R<tspan class="sub" dy="9">0</tspan><tspan class="rg" dy="-9">(%)</tspan></text>
<text transform="translate(55.2,1296) rotate(-90)" text-anchor="middle" class="yt"><tspan class="tri">&#9651;</tspan>R/R<tspan class="sub" dy="9">0</tspan><tspan class="rg" dy="-9">(%)</tspan></text>
<text transform="translate(710.2,1316.3) rotate(-90)" text-anchor="middle" class="yt"><tspan class="tri">&#9651;</tspan>R/R<tspan class="sub" dy="9">0</tspan><tspan class="rg" dy="-9">(%)</tspan></text>
<text transform="translate(1371.7,1316.3) rotate(-90)" text-anchor="middle" class="yt"><tspan class="tri">&#9651;</tspan>R/R<tspan class="sub" dy="9">0</tspan><tspan class="rg" dy="-9">(%)</tspan></text>
</svg>
</body></html>
